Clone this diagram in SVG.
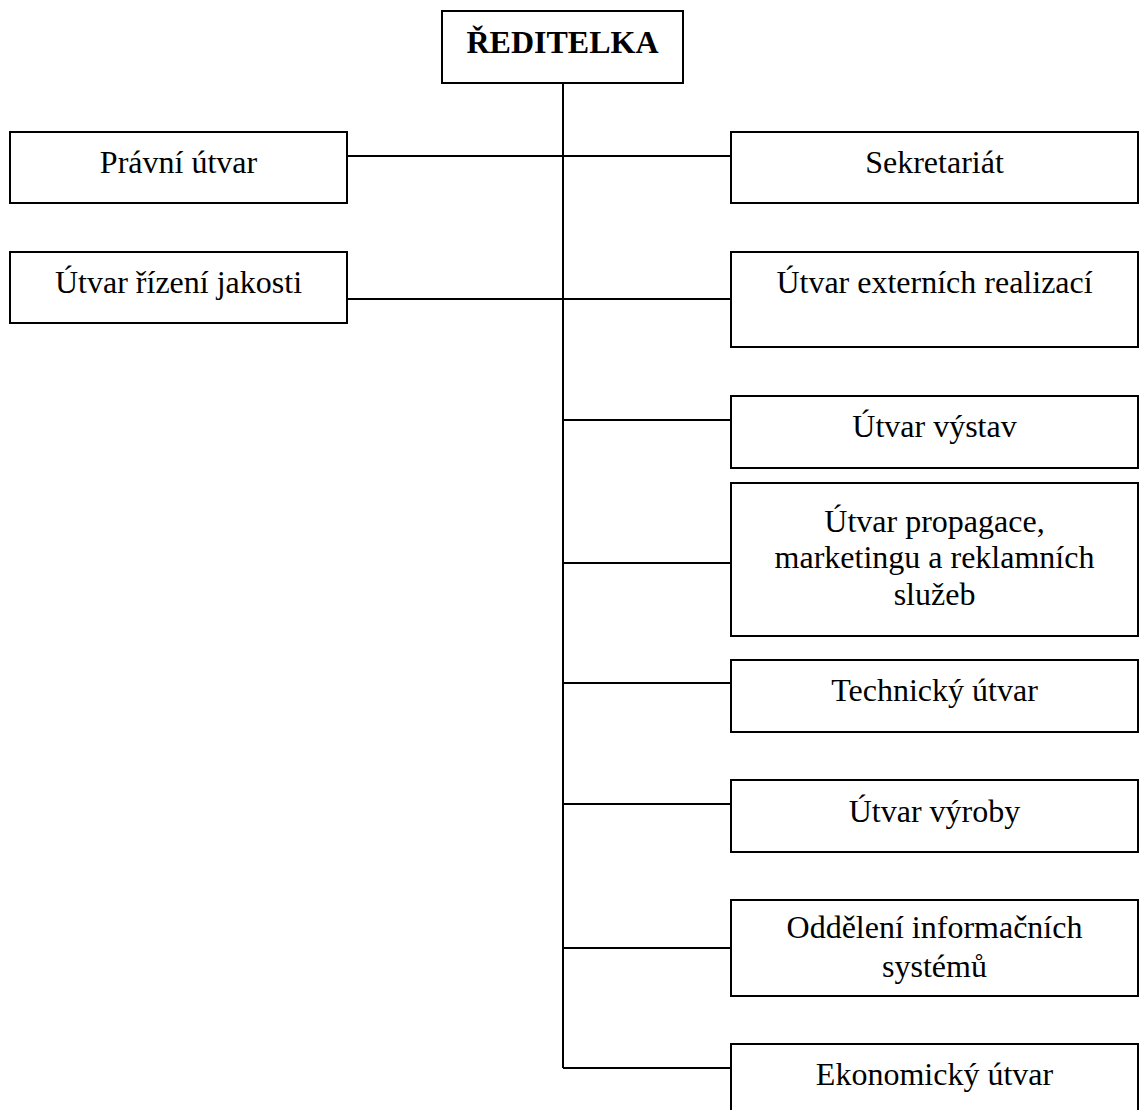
<svg xmlns="http://www.w3.org/2000/svg" width="1140" height="1110" viewBox="0 0 1140 1110">
  <style>
    .box { fill: #ffffff; stroke: #000000; stroke-width: 2; }
    .link { fill: none; stroke: #000000; stroke-width: 2; }
    text { font-family: "Liberation Serif", "Times New Roman", serif; font-size: 32px; fill: #000000; text-anchor: middle; }
    .title { font-weight: bold; }
  </style>
  <rect width="1140" height="1110" fill="#ffffff"/>

  <!-- connectors: trunk from the director down, branches to each unit -->
  <g id="connectors">
    <line class="link" x1="563" y1="83" x2="563" y2="1068"/>
    <line class="link" x1="347" y1="156" x2="731" y2="156"/>
    <line class="link" x1="347" y1="299" x2="731" y2="299"/>
    <line class="link" x1="563" y1="420" x2="731" y2="420"/>
    <line class="link" x1="563" y1="563" x2="731" y2="563"/>
    <line class="link" x1="563" y1="683" x2="731" y2="683"/>
    <line class="link" x1="563" y1="804" x2="731" y2="804"/>
    <line class="link" x1="563" y1="948" x2="731" y2="948"/>
    <line class="link" x1="563" y1="1068" x2="731" y2="1068"/>
  </g>

  <g id="reditelka">
    <rect class="box" x="442" y="11" width="241" height="72"/>
    <text class="title" x="562.5" y="53">ŘEDITELKA</text>
  </g>

  <g id="pravni-utvar">
    <rect class="box" x="10" y="132" width="337" height="71"/>
    <text x="178.5" y="173">Právní útvar</text>
  </g>

  <g id="utvar-rizeni-jakosti">
    <rect class="box" x="10" y="252" width="337" height="71"/>
    <text x="178.5" y="293">Útvar řízení jakosti</text>
  </g>

  <g id="sekretariat">
    <rect class="box" x="731" y="132" width="407" height="71"/>
    <text x="934.5" y="173">Sekretariát</text>
  </g>

  <g id="utvar-externich-realizaci">
    <rect class="box" x="731" y="252" width="407" height="95"/>
    <text x="934.5" y="293">Útvar externích realizací</text>
  </g>

  <g id="utvar-vystav">
    <rect class="box" x="731" y="396" width="407" height="72"/>
    <text x="934.5" y="437">Útvar výstav</text>
  </g>

  <g id="utvar-propagace">
    <rect class="box" x="731" y="483" width="407" height="153"/>
    <text x="934.5" y="532">Útvar propagace,</text>
    <text x="934.5" y="568">marketingu a reklamních</text>
    <text x="934.5" y="605">služeb</text>
  </g>

  <g id="technicky-utvar">
    <rect class="box" x="731" y="660" width="407" height="72"/>
    <text x="934.5" y="701">Technický útvar</text>
  </g>

  <g id="utvar-vyroby">
    <rect class="box" x="731" y="780" width="407" height="72"/>
    <text x="934.5" y="822">Útvar výroby</text>
  </g>

  <g id="oddeleni-informacnich-systemu">
    <rect class="box" x="731" y="900" width="407" height="96"/>
    <text x="934.5" y="938">Oddělení informačních</text>
    <text x="934.5" y="977">systémů</text>
  </g>

  <g id="ekonomicky-utvar">
    <rect class="box" x="731" y="1044" width="407" height="80"/>
    <text x="934.5" y="1085">Ekonomický útvar</text>
  </g>
</svg>
